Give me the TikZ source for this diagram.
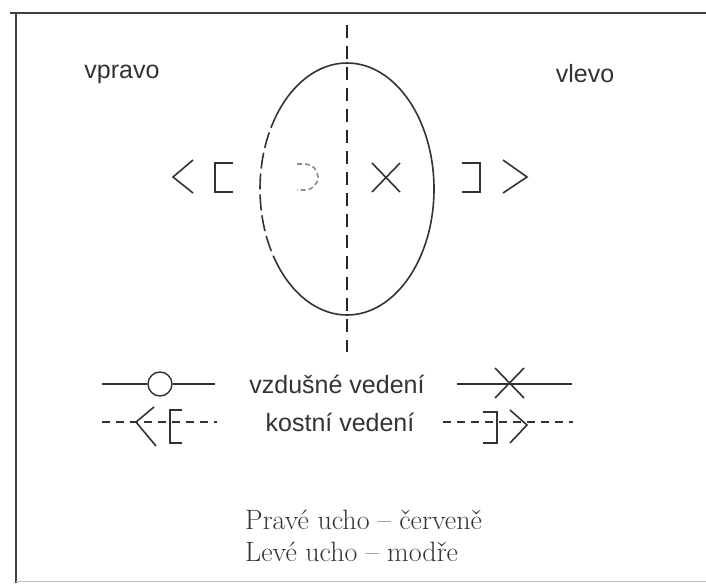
\documentclass[tikz,border=0pt]{standalone}
\usepackage{fontspec}
\newfontfamily\labelfont{Liberation Sans}
\usetikzlibrary{positioning}

\begin{document}
\begin{tikzpicture}[
    x=1pt, y=-1pt,
    frame/.style={line width=2.6pt, black!75},
    sym/.style={line width=1.6pt, black!80},
    dotline/.style={line width=1.6pt, black!80, dash pattern=on 8pt off 6pt},
    axis/.style={line width=1.6pt, black!85, dash pattern=on 13pt off 8pt},
    label/.style={font=\labelfont\fontsize{25}{28}\selectfont, text=black!80, inner sep=0pt},
    note/.style={font=\fontsize{28}{32}\selectfont, text=black!80, inner sep=0pt, anchor=west}
]
\useasboundingbox (0,0) rectangle (706,583);

% frame
\draw [frame] (10,13) -- (706,13);
\draw [frame] (16,12) -- (16,583);
\draw [line width=0.8pt, black!25] (16,581) -- (706,581);

% head and axis
\coordinate (top) at (347,25);
\coordinate (bot) at (347,352);
\draw [sym] (347,189) ++(-90:87 and 126) arc[start angle=-90, end angle=140, x radius=87, y radius=126];
\draw [sym, dash pattern=on 16pt off 5pt] (347,189) ++(140:87 and 126) arc[start angle=140, end angle=215, x radius=87, y radius=126];
\draw [sym] (347,189) ++(215:87 and 126) arc[start angle=215, end angle=270, x radius=87, y radius=126];
\draw [axis] (top) -- (bot);

\node (vpravo) [label] at (122,74) {vpravo};
\node (vlevo) [label] at (585,74) {vlevo};

% symbols right ear
\draw [sym] (193,160) -- (173,177) -- (193,193);
\draw [sym] (233,163) -- (215,163) -- (215,192) -- (233,192);
\draw [sym, black!45, dash pattern=on 5pt off 3pt] (297,164) -- (305,164) arc[start angle=-90, end angle=90, radius=13] -- (297,190);
% symbols left ear
\draw [sym] (372,163) -- (400,192) (372,192) -- (400,163);
\draw [sym] (462,163) -- (480,163) -- (480,192) -- (462,192);
\draw [sym] (503,160) -- (527,177) -- (503,193);

% legend: air conduction
\coordinate (a1) at (102,384);
\coordinate (a2) at (215,384);
\node (air) [circle, draw=black!80, line width=1.4pt, minimum size=24pt, inner sep=0pt] at (160,384) {};
\draw [sym] (a1) -- (air) -- (a2);
\node (vzd) [label] at (337,384) {vzdušné vedení};
\coordinate (a3) at (457,384);
\coordinate (a4) at (572,384);
\draw [sym] (a3) -- (a4);
\draw [sym] (495,368) -- (524,398) (495,398) -- (524,368);

% legend: bone conduction
\coordinate (b1) at (102,422);
\coordinate (b2) at (217,422);
\draw [dotline] (b1) -- (b2);
\draw [sym] (154,407) -- (136,422) -- (156,446);
\draw [sym] (182,410) -- (170,410) -- (170,443) -- (182,443);
\node (kost) [label] at (340,422) {kostní vedení};
\coordinate (b3) at (443,422);
\coordinate (b4) at (573,422);
\draw [dotline] (b3) -- (b4);
\draw [sym] (483,412) -- (497,412) -- (497,443) -- (483,443);
\draw [sym] (510,410) -- (527,425) -- (510,443);

% colours
\node (prave) [note] at (245,520) {Pravé ucho – červeně};
\node (leve) [note] at (245,552) {Levé ucho – modře};

\end{tikzpicture}
\end{document}
